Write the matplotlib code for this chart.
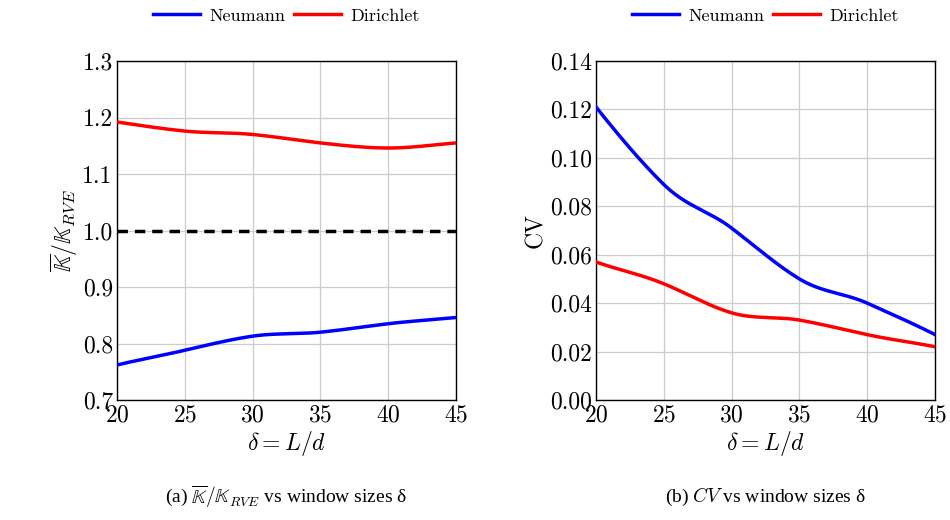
import numpy as np
import matplotlib
matplotlib.use("Agg")
import matplotlib.pyplot as plt

plt.rcParams['mathtext.fontset'] = 'cm'
plt.rcParams['font.family'] = ['cmr10', 'DejaVu Serif']
plt.rcParams['axes.formatter.use_mathtext'] = True

delta = [20, 25, 30, 35, 40, 45]
# left panel: K_bar / K_RVE
ratio_neumann = [0.762, 0.788, 0.813, 0.820, 0.835, 0.846]
ratio_dirichlet = [1.192, 1.176, 1.170, 1.155, 1.146, 1.155]
# right panel: coefficient of variation
cv_neumann = [0.121, 0.089, 0.071, 0.050, 0.040, 0.027]
cv_dirichlet = [0.057, 0.048, 0.036, 0.033, 0.027, 0.022]


def smooth(x, y, n=30):
    # cubic hermite through the points, only for drawing (like pgfplots "smooth")
    x = np.asarray(x, float)
    y = np.asarray(y, float)
    m = len(x)
    slope = np.zeros(m)
    for i in range(m):
        a = max(i - 1, 0)
        b = min(i + 1, m - 1)
        slope[i] = (y[b] - y[a]) / (x[b] - x[a]) * 1.1
    xs, ys = [], []
    for i in range(m - 1):
        s = np.linspace(0, 1, n)
        h = x[i + 1] - x[i]
        h00 = 2 * s**3 - 3 * s**2 + 1
        h10 = s**3 - 2 * s**2 + s
        h01 = -2 * s**3 + 3 * s**2
        h11 = s**3 - s**2
        xs.append(x[i] + s * h)
        ys.append(h00 * y[i] + h10 * slope[i] * h + h01 * y[i + 1] + h11 * slope[i + 1] * h)
    return np.concatenate(xs), np.concatenate(ys)


fig = plt.figure(figsize=(9.5, 5.2), dpi=100)
ax1 = fig.add_axes([117 / 950, 1 - 400 / 520, 339 / 950, 339 / 520])
ax2 = fig.add_axes([596 / 950, 1 - 400 / 520, 339 / 950, 339 / 520])

lw = 2.5
for ax, yn, yd in [(ax1, ratio_neumann, ratio_dirichlet), (ax2, cv_neumann, cv_dirichlet)]:
    ax.plot(*smooth(delta, yn), color='#0000ff', lw=lw, label='Neumann', zorder=3)
    ax.plot(*smooth(delta, yd), color='#ff0000', lw=lw, label='Dirichlet', zorder=3)
    ax.set_xlim(20, 45)
    ax.set_xticks(delta)
    ax.grid(True, color='#cccccc', lw=0.9)
    ax.tick_params(labelsize=17, length=0, pad=3)
    ax.set_xlabel(r'$\delta = L/d$', fontsize=17, labelpad=2)
    for sp in ax.spines.values():
        sp.set_linewidth(1.0)
    ax.legend(loc='lower center', bbox_to_anchor=(0.5, 1.11), ncol=2, frameon=False,
              fontsize=13, handlelength=2.6, columnspacing=0.5, handletextpad=0.5,
              borderaxespad=0, borderpad=0)

ax1.axhline(1.0, color='black', lw=2.5, ls=(0, (3, 2)), zorder=2)
ax1.set_ylim(0.7, 1.3)
ax1.set_yticks([0.7, 0.8, 0.9, 1.0, 1.1, 1.2, 1.3])
ax1.set_yticklabels(['0.7', '0.8', '0.9', '1.0', '1.1', '1.2', '1.3'])
ax1.set_ylabel(r'$\overline{\mathbb{K}}/\mathbb{K}_{RVE}$', fontsize=17, labelpad=2)

ax2.set_ylim(0, 0.14)
yt = [0.0, 0.02, 0.04, 0.06, 0.08, 0.10, 0.12, 0.14]
ax2.set_yticks(yt)
ax2.set_yticklabels(['%.2f' % v for v in yt])
ax2.set_ylabel('CV', fontsize=17, labelpad=2)

fig.text(286 / 950, 1 - 497 / 520, r'(a) $\overline{\mathbb{K}}/\mathbb{K}_{RVE}$ vs window sizes δ',
         ha='center', va='center', fontsize=14, family=['Liberation Serif', 'DejaVu Serif'])
fig.text(765 / 950, 1 - 497 / 520, '(b) $\\it{CV}$ vs window sizes δ',
         ha='center', va='center', fontsize=14, family=['Liberation Serif', 'DejaVu Serif'])

fig.savefig('out.png', dpi=100)
